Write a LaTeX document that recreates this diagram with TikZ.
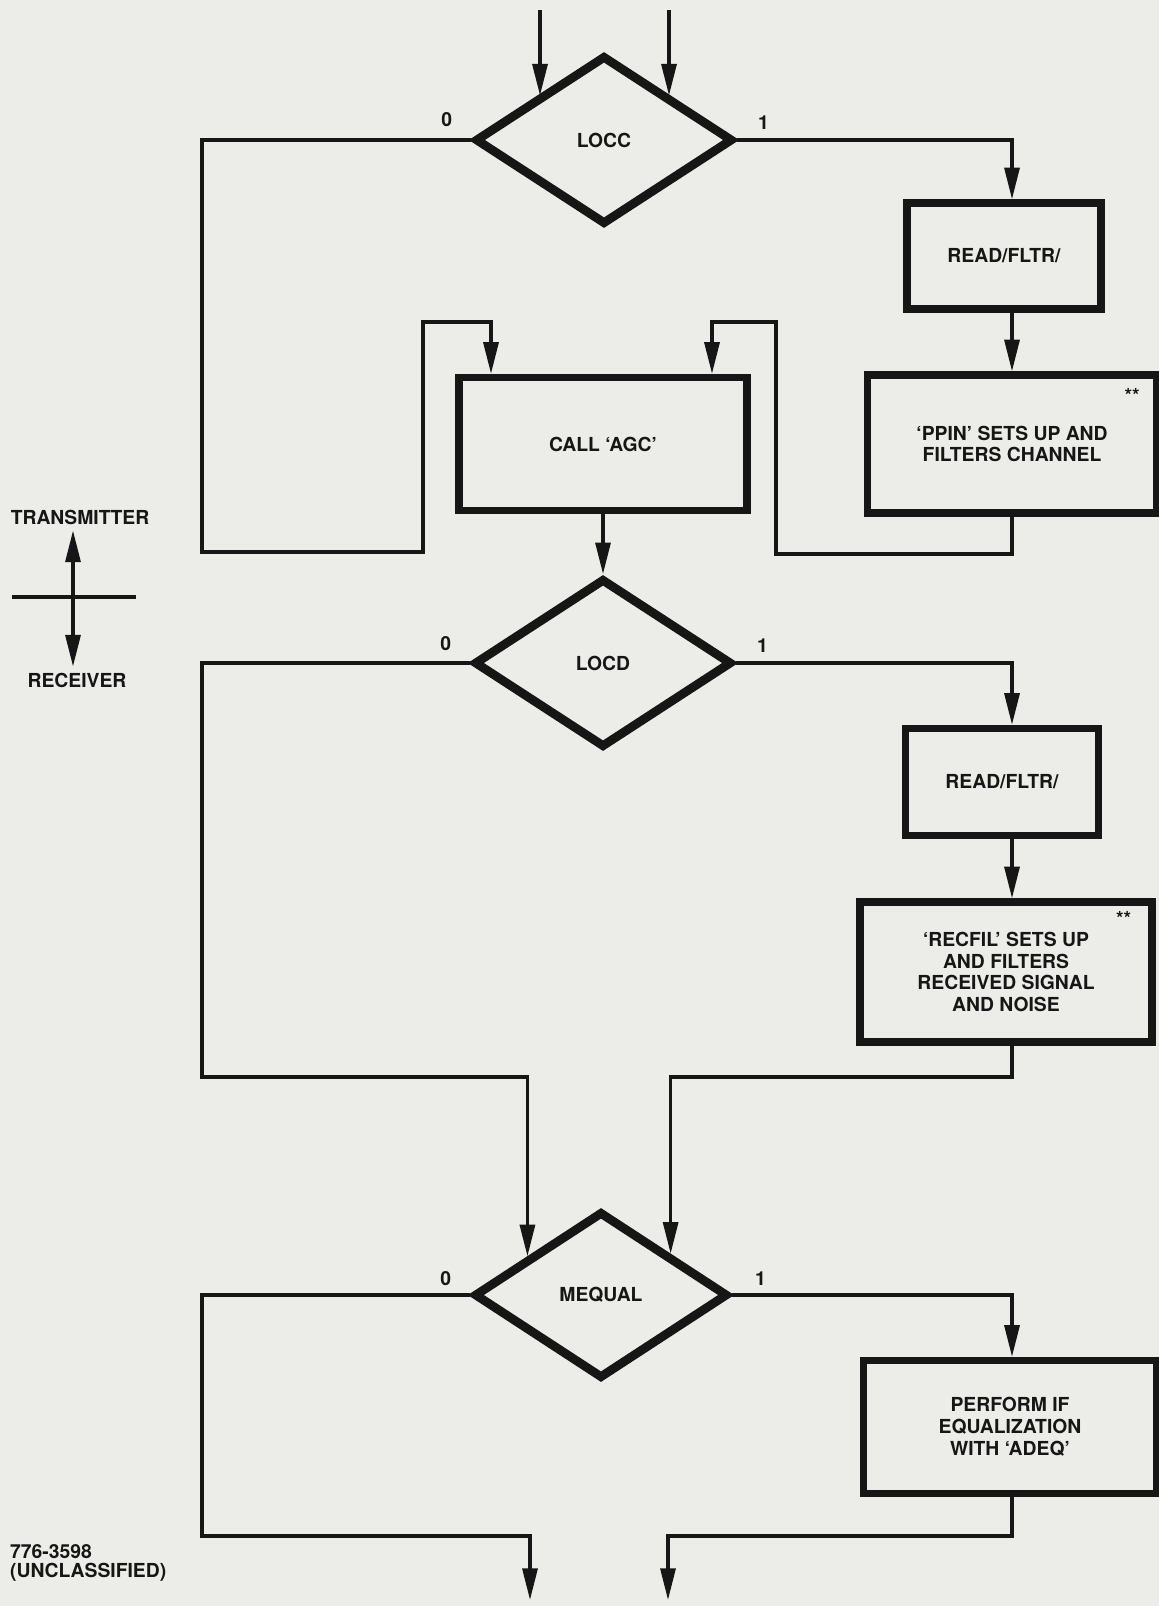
\documentclass[tikz,border=0pt]{standalone}
\usepackage{fontspec}
\setmainfont{TeX Gyre Heros}
\usetikzlibrary{shapes.geometric,arrows.meta,calc}
\definecolor{paper}{RGB}{236,236,233}
\definecolor{ink}{RGB}{22,22,22}

\begin{document}
\begin{tikzpicture}[x=0.02cm,y=-0.02cm,
  every node/.style={font=\fontsize{11}{12.4}\selectfont\bfseries,text=ink},
  decision/.style={diamond,draw=ink,line width=5pt,minimum width=5.16cm,minimum height=3.38cm,inner sep=0pt},
  procbox/.style={rectangle,draw=ink,line width=4.2pt,align=center},
  flow/.style={draw=ink,line width=1.9pt},
  arr/.style={flow,-{Triangle[length=18pt,width=8.5pt]}}]
  \fill[paper] (0,0) rectangle (1159,1606);
  \useasboundingbox (0,0) rectangle (1159,1606);

  % decisions
  \node[decision] (locc) at (604,140) {LOCC};
  \node[decision] (locd) at (603,663) {LOCD};
  \node[decision,minimum width=5.08cm,minimum height=3.34cm] (meq) at (601,1295) {MEQUAL};

  % boxes
  \node[procbox,minimum width=3.88cm,minimum height=2.12cm] (read1) at (1004,256) {READ/FLTR/};
  \node[procbox,minimum width=5.78cm,minimum height=2.76cm] (ppin) at (1012,444) {‘PPIN’ SETS UP AND\\FILTERS CHANNEL};
  \node[procbox,minimum width=5.76cm,minimum height=2.66cm] (agc) at (603,444) {CALL ‘AGC’};
  \node[procbox,minimum width=3.86cm,minimum height=2.14cm] (read2) at (1002,782) {READ/FLTR/};
  \node[procbox,minimum width=5.84cm,minimum height=2.8cm] (recfil) at (1006,972) {‘RECFIL’ SETS UP\\AND FILTERS\\RECEIVED SIGNAL\\AND NOISE};
  \node[procbox,minimum width=5.86cm,minimum height=2.66cm] (perf) at (1010,1427) {PERFORM IF\\EQUALIZATION\\WITH ‘ADEQ’};
  \node (st1) at ($(ppin.north east)+(-28,24)$) {**};
  \node (st2) at ($(recfil.north east)+(-32,20)$) {**};

  % branch labels
  \node at ($(locc.west)+(-24,-20)$) {0};
  \node at ($(locc.east)+(26,-17)$) {1};
  \node at ($(locd.west)+(-24,-19)$) {0};
  \node at ($(locd.east)+(26,-17)$) {1};
  \node at ($(meq.west)+(-24,-16)$) {0};
  \node at ($(meq.east)+(28,-16)$) {1};

  % routing points
  \coordinate (rc) at (1012,0);
  \coordinate (topA) at (540,10);
  \coordinate (topB) at (669,10);
  \coordinate (la) at (202,552);
  \coordinate (lb) at (423,322);
  \coordinate (ra) at (776,554);
  \coordinate (lc) at (202,1077);
  \coordinate (ld) at (202,1536);
  \coordinate (outA) at (530,1600);
  \coordinate (outB) at (668,1600);
  \coordinate (meqA) at ($(meq.west)!0.44!(meq.north)$);
  \coordinate (meqB) at ($(meq.north)!0.53!(meq.east)$);

  \draw[arr] (topA) -- (topA |- locc.north west);
  \draw[arr] (topB) -- (topB |- locc.north east);
  \draw[arr] (locc.west) -| (la) -| (lb) -| ($(agc.north)+(-112,0)$);
  \draw[arr] (locc.east) -| (rc |- read1.north);
  \draw[arr] (rc |- read1.south) -- (rc |- ppin.north);
  \draw[arr] (rc |- ppin.south) |- (ra) -- (ra |- lb) -| ($(agc.north)+(109,0)$);
  \draw[arr] (agc.south) -- (locd.north);

  \draw[arr] (locd.west) -| (lc) -| (meqA);
  \draw[arr] (locd.east) -| (rc |- read2.north);
  \draw[arr] (rc |- read2.south) -- (rc |- recfil.north);
  \draw[arr] (rc |- recfil.south) -- (rc |- lc) -| (meqB);

  \draw[arr] (meq.west) -| (ld) -| (outA);
  \draw[arr] (meq.east) -| (rc |- perf.north);
  \draw[arr] (rc |- perf.south) -- (rc |- ld) -| (outB);

  % legend
  \node (tx) at (80,517) {TRANSMITTER};
  \node (rx) at (77,680) {RECEIVER};
  \coordinate (lgc) at (73,597);
  \coordinate (lgl) at (12,597);
  \coordinate (lgr) at (136,597);
  \draw[flow] (lgl) -- (lgr);
  \draw[arr] (lgc) -- (lgc |- tx.south);
  \draw[arr] (lgc) -- (lgc |- rx.north);

  \node[anchor=west,align=left,font=\fontsize{11}{10.8}\selectfont\bfseries] (code) at (4,1563) {776-3598\\(UNCLASSIFIED)};
\end{tikzpicture}
\end{document}
